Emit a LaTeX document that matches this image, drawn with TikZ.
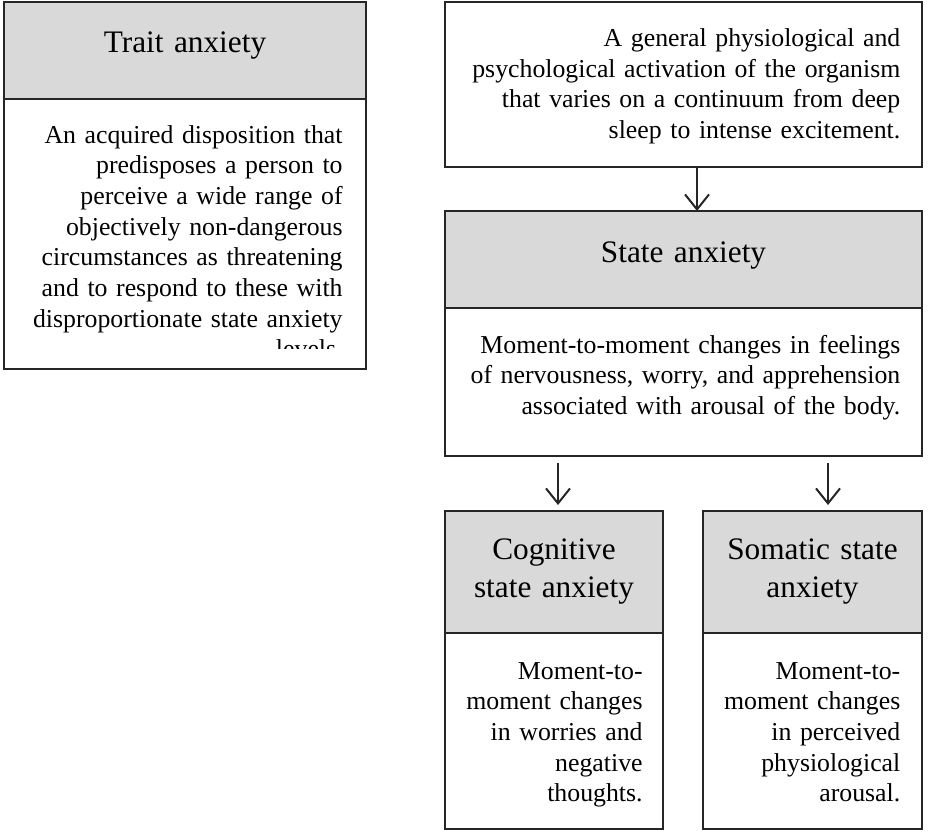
\documentclass[tikz,border=0pt]{standalone}
\usepackage{fontspec}
\setmainfont{Liberation Serif}
\usetikzlibrary{arrows.meta,
                positioning}

\definecolor{headgray}{RGB}{217,217,217}
\newcommand{\headfont}{\fontsize{15.65pt}{19pt}\selectfont}
\newcommand{\bodyfont}{\fontsize{12.9pt}{15.35pt}\selectfont}

\tikzset{
    boxline/.style={draw=black!85, line width=1pt, inner sep=0pt, outer sep=0pt, anchor=north west},
    headbox/.style={boxline, fill=headgray},
    bodybox/.style={boxline, fill=white},
    headtext/.style={font=\headfont, text width=#1, align=center, anchor=base, inner sep=0pt},
    bodytext/.style={font=\bodyfont, text width=#1, align=right, anchor=base east, inner sep=0pt},
    flow/.style={-{Straight Barb[length=7.5pt, width=12pt]}, line width=1pt, black!85}
}

\begin{document}
\begin{tikzpicture}[x=0.5pt, y=-0.5pt]
        \useasboundingbox (0,0) rectangle (929,831);

        % trait anxiety
        \node[headbox, minimum width=181pt, minimum height=48.5pt] (traithead) at (4,2) {};
        \node[bodybox, minimum width=181pt, minimum height=135pt, below=0pt of traithead] (traitbody) {};
        \node[headtext=170pt] (traittitle) at ([yshift=-25pt]traithead.north) {Trait anxiety};
        \begin{scope}
            \clip (traitbody.north west) rectangle ([yshift=10.5pt]traitbody.south east);
            \node[bodytext=170pt] (traittext) at ([xshift=-11.5pt, yshift=-22pt]traitbody.north east)
                {An acquired disposition that\\ predisposes a person to\\ perceive a wide range of\\
                 objectively non-dangerous\\ circumstances as threatening\\ and to respond to these with\\
                 disproportionate state anxiety\\ levels.};
        \end{scope}

        % arousal and state anxiety
        \node[bodybox, minimum width=238.5pt, minimum height=82.75pt] (arousal) at (445,1.5) {};
        \node[bodytext=230pt] (arousaltext) at ([xshift=-10.65pt, yshift=-22.5pt]arousal.north east)
            {A general physiological and\\ psychological activation of the organism\\
             that varies on a continuum from deep\\ sleep to intense excitement.};

        \node[headbox, minimum width=238.5pt, minimum height=48.5pt, below=22pt of arousal] (statehead) {};
        \node[bodybox, minimum width=238.5pt, minimum height=74pt, below=0pt of statehead] (statebody) {};
        \node[headtext=200pt] (statetitle) at ([yshift=-25.5pt]statehead.north) {State anxiety};
        \node[bodytext=230pt] (statetext) at ([xshift=-10.65pt, yshift=-22.5pt]statebody.north east)
            {Moment-to-moment changes in feelings\\ of nervousness, worry, and apprehension\\
             associated with arousal of the body.};

        % the two components
        \node[headbox, minimum width=109pt, minimum height=61pt] (coghead) at ([yshift=-27.5pt]statebody.south west) {};
        \node[bodybox, minimum width=109pt, minimum height=98pt, below=0pt of coghead] (cogbody) {};
        \node[headtext=105pt] (cogtitle) at ([yshift=-24pt]coghead.north) {Cognitive\\ state anxiety};
        \node[bodytext=100pt] (cogtext) at ([xshift=-10pt, yshift=-23pt]cogbody.north east)
            {Moment-to-\\ moment changes\\ in worries and\\ negative\\ thoughts.};

        \node[headbox, minimum width=109.5pt, minimum height=61pt, anchor=north east] (somhead) at ([yshift=-27.5pt]statebody.south east) {};
        \node[bodybox, minimum width=109.5pt, minimum height=98pt, below=0pt of somhead] (sombody) {};
        \node[headtext=105pt] (somtitle) at ([yshift=-24pt]somhead.north) {Somatic state\\ anxiety};
        \node[bodytext=100pt] (somtext) at ([xshift=-10.65pt, yshift=-23pt]sombody.north east)
            {Moment-to-\\ moment changes\\ in perceived\\ physiological\\ arousal.};

        % arrows
        \draw[flow] ([xshift=6.75pt]arousal.south) -- ([xshift=6.75pt]statehead.north);
        \draw[flow, shorten <=3.5pt, shorten >=3pt] ([xshift=2pt]coghead.north |- statebody.south) -- ([xshift=2pt]coghead.north);
        \draw[flow, shorten <=3.5pt, shorten >=3pt] ([xshift=7.75pt]somhead.north |- statebody.south) -- ([xshift=7.75pt]somhead.north);
\end{tikzpicture}
\end{document}
